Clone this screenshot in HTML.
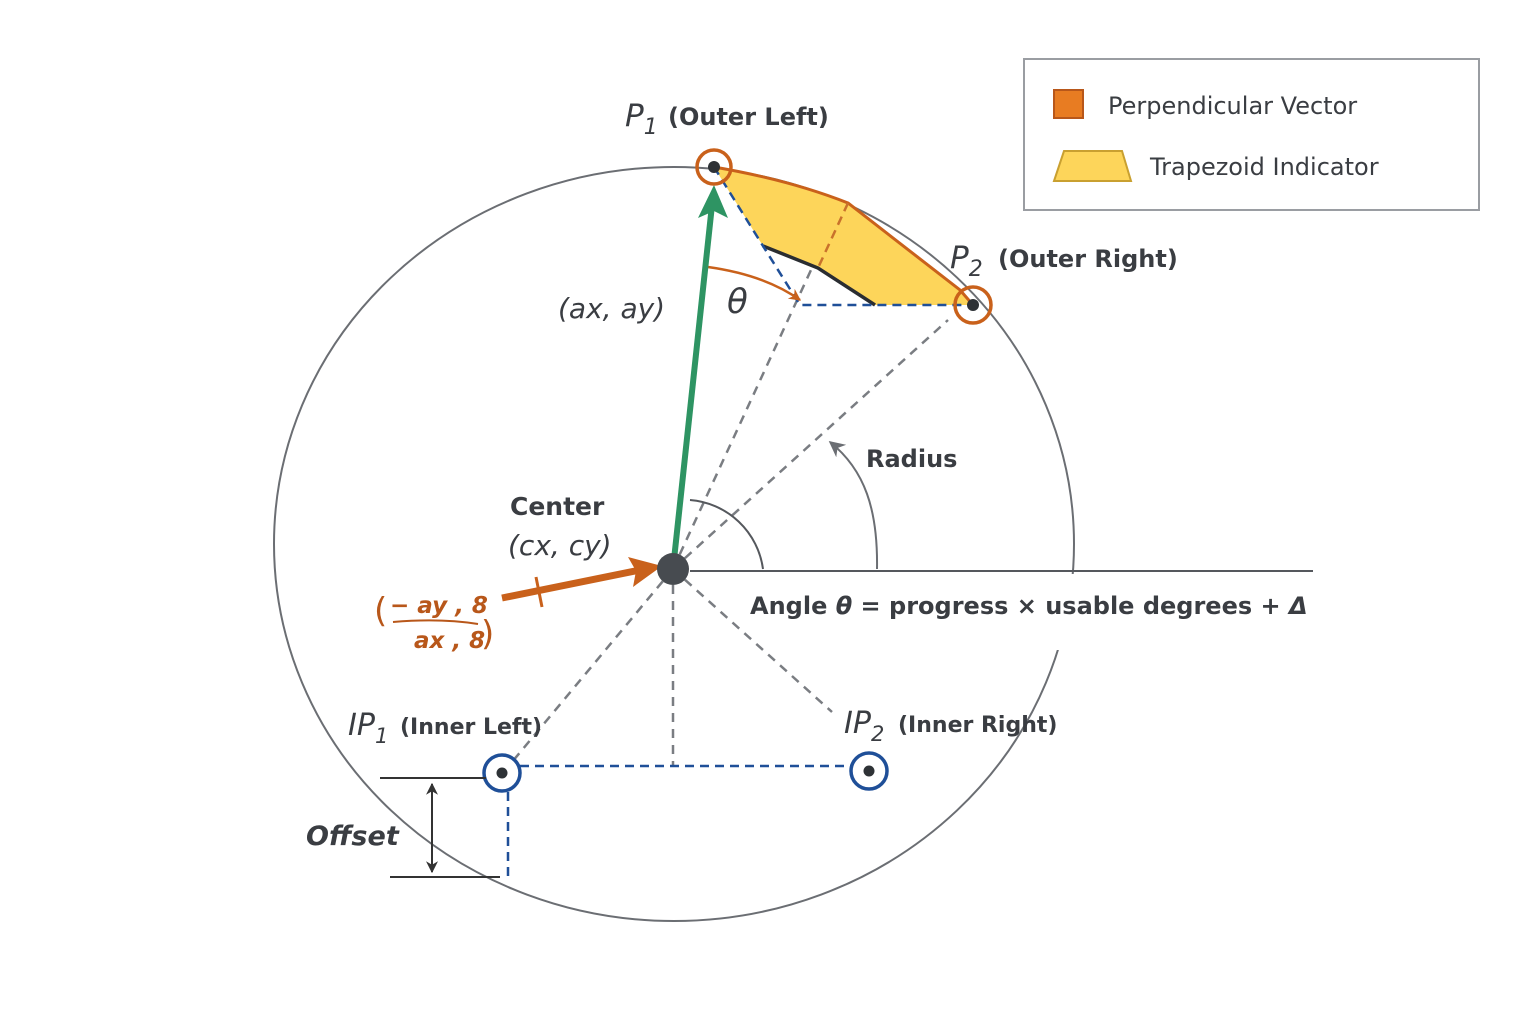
<!DOCTYPE html>
<html><head><style>
body{margin:0;background:#fff}
svg text{font-family:"DejaVu Sans","Liberation Sans",sans-serif;fill:#3a3d42}
</style></head><body>
<svg width="1536" height="1024" viewBox="0 0 1536 1024" xmlns="http://www.w3.org/2000/svg">
<defs>
<marker id="ao" markerWidth="12" markerHeight="12" refX="9" refY="5" orient="auto" viewBox="0 0 10 10" markerUnits="userSpaceOnUse"><path d="M0,0 L10,5 L0,10 L3,5z" fill="#c9611b"/></marker>
<marker id="agr" markerWidth="16" markerHeight="16" refX="9" refY="5" orient="auto" viewBox="0 0 10 10" markerUnits="userSpaceOnUse"><path d="M0,0 L10,5 L0,10 L3,5z" fill="#6b6e73"/></marker>
<marker id="ak" markerWidth="12" markerHeight="12" refX="9" refY="5" orient="auto-start-reverse" viewBox="0 0 10 10" markerUnits="userSpaceOnUse"><path d="M0,0 L10,5 L0,10 L3,5z" fill="#333"/></marker>
</defs>
<ellipse cx="674" cy="544" rx="400" ry="377" fill="none" stroke="#6b6e73" stroke-width="2"/>
<rect x="1040" y="574" width="60" height="76" fill="#fff"/>
<line x1="690" y1="571" x2="1313" y2="571" stroke="#55585d" stroke-width="2"/>
<g stroke="#7a7d82" stroke-width="2.5" stroke-dasharray="9,7" fill="none">
<line x1="673" y1="569" x2="835" y2="218"/>
<line x1="673" y1="569" x2="948" y2="320"/>
<line x1="673" y1="569" x2="673" y2="765"/>
<line x1="673" y1="569" x2="512" y2="762"/>
<line x1="673" y1="569" x2="832" y2="712"/>
</g>
<path d="M690,500 A80,80 0 0 1 763,569" fill="none" stroke="#55585d" stroke-width="2"/>
<path d="M877,569 C878,510 865,470 830,442" fill="none" stroke="#6b6e73" stroke-width="2" marker-end="url(#agr)"/>
<path d="M714,167 Q790,180 848,203 L960,290 L973,305 L875,305 L818,268 L763,246 Z" fill="#fdd55a"/>
<path d="M714,167 Q790,180 848,203 L960,290 L973,305" fill="none" stroke="#c9611b" stroke-width="3"/>
<path d="M875,305 L818,268 L763,246" fill="none" stroke="#2a2d31" stroke-width="3.5"/>
<path d="M714,167 L763,246 L800,305 L973,305" fill="none" stroke="#1f4f98" stroke-width="2.5" stroke-dasharray="9,6"/>
<line x1="848" y1="203" x2="818" y2="268" stroke="#c9722b" stroke-width="2.5" stroke-dasharray="9,6"/>
<path d="M708,267 Q765,275 800,300" fill="none" stroke="#c9611b" stroke-width="2.5" marker-end="url(#ao)"/>
<line x1="673" y1="569" x2="712" y2="205" stroke="#2e9463" stroke-width="6"/>
<path d="M714,185 L728,218 L714,211 L698,218Z" fill="#2e9463"/>
<line x1="502" y1="598" x2="640" y2="570" stroke="#c9611b" stroke-width="7"/>
<path d="M662,566 L628,557 L636,571 L633,587Z" fill="#c9611b"/>
<line x1="536" y1="577" x2="542" y2="607" stroke="#c9611b" stroke-width="3"/>
<circle cx="673" cy="569" r="16" fill="#474b50"/>
<circle cx="714" cy="167" r="17" fill="none" stroke="#c9611b" stroke-width="3.5"/><circle cx="714" cy="167" r="6" fill="#2e3236"/>
<circle cx="973" cy="305" r="18" fill="none" stroke="#c9611b" stroke-width="3.5"/><circle cx="973" cy="305" r="6" fill="#2e3236"/>
<line x1="520" y1="766" x2="852" y2="766" stroke="#1f4f98" stroke-width="2.5" stroke-dasharray="9,6"/>
<line x1="508" y1="792" x2="508" y2="876" stroke="#1f4f98" stroke-width="2.5" stroke-dasharray="9,6"/>
<circle cx="502" cy="773" r="18" fill="#fff" stroke="#1f4f98" stroke-width="3.5"/><circle cx="502" cy="773" r="5.5" fill="#2e3236"/>
<circle cx="869" cy="771" r="18" fill="#fff" stroke="#1f4f98" stroke-width="3.5"/><circle cx="869" cy="771" r="5.5" fill="#2e3236"/>
<line x1="380" y1="778" x2="486" y2="778" stroke="#333" stroke-width="2"/>
<line x1="390" y1="877" x2="500" y2="877" stroke="#333" stroke-width="2"/>
<line x1="432" y1="784" x2="432" y2="872" stroke="#333" stroke-width="2" marker-start="url(#ak)" marker-end="url(#ak)"/>
<text x="625" y="126" font-size="31" font-style="italic">P<tspan font-size="22" dy="8">1</tspan></text>
<text x="668" y="125" font-size="24" font-weight="bold">(Outer Left)</text>
<text x="950" y="268" font-size="31" font-style="italic">P<tspan font-size="22" dy="8">2</tspan></text>
<text x="998" y="267" font-size="24" font-weight="bold">(Outer Right)</text>
<text x="558" y="318" font-size="28" font-style="italic">(ax, ay)</text>
<text x="727" y="313" font-size="34" font-style="italic">θ</text>
<text x="866" y="467" font-size="24" font-weight="bold">Radius</text>
<text x="510" y="515" font-size="25" font-weight="bold">Center</text>
<text x="508" y="555" font-size="28" font-style="italic">(cx, cy)</text>
<text x="374" y="622" font-size="34" fill="#b8571a" style="fill:#b8571a">(</text>
<text x="390" y="613" font-size="23" font-style="italic" font-weight="bold" style="fill:#b8571a">− ay , 8</text>
<path d="M393,622 Q440,618 478,624" stroke="#b8571a" stroke-width="2" fill="none"/>
<text x="414" y="648" font-size="23" font-style="italic" font-weight="bold" style="fill:#b8571a">ax , 8</text>
<text x="481" y="645" font-size="34" style="fill:#b8571a">)</text>
<text x="750" y="614" font-size="24" font-weight="bold">Angle <tspan font-style="italic">θ</tspan> = progress × usable degrees + <tspan font-style="italic">Δ</tspan></text>
<text x="348" y="735" font-size="30" font-style="italic">IP<tspan font-size="21" dy="8">1</tspan></text>
<text x="400" y="734" font-size="22" font-weight="bold">(Inner Left)</text>
<text x="844" y="733" font-size="30" font-style="italic">IP<tspan font-size="21" dy="8">2</tspan></text>
<text x="898" y="732" font-size="22" font-weight="bold">(Inner Right)</text>
<text x="306" y="845" font-size="27" font-style="italic" font-weight="bold">Offset</text>
<rect x="1024" y="59" width="455" height="151" fill="#fff" stroke="#9a9da2" stroke-width="2"/>
<rect x="1054" y="90" width="29" height="28" fill="#e87c22" stroke="#b8571a" stroke-width="2"/>
<text x="1108" y="114" font-size="24">Perpendicular Vector</text>
<path d="M1064,151 L1122,151 L1131,181 L1054,181Z" fill="#fdd55a" stroke="#c9a030" stroke-width="2"/>
<text x="1150" y="175" font-size="24">Trapezoid Indicator</text>
</svg>
</body></html>
